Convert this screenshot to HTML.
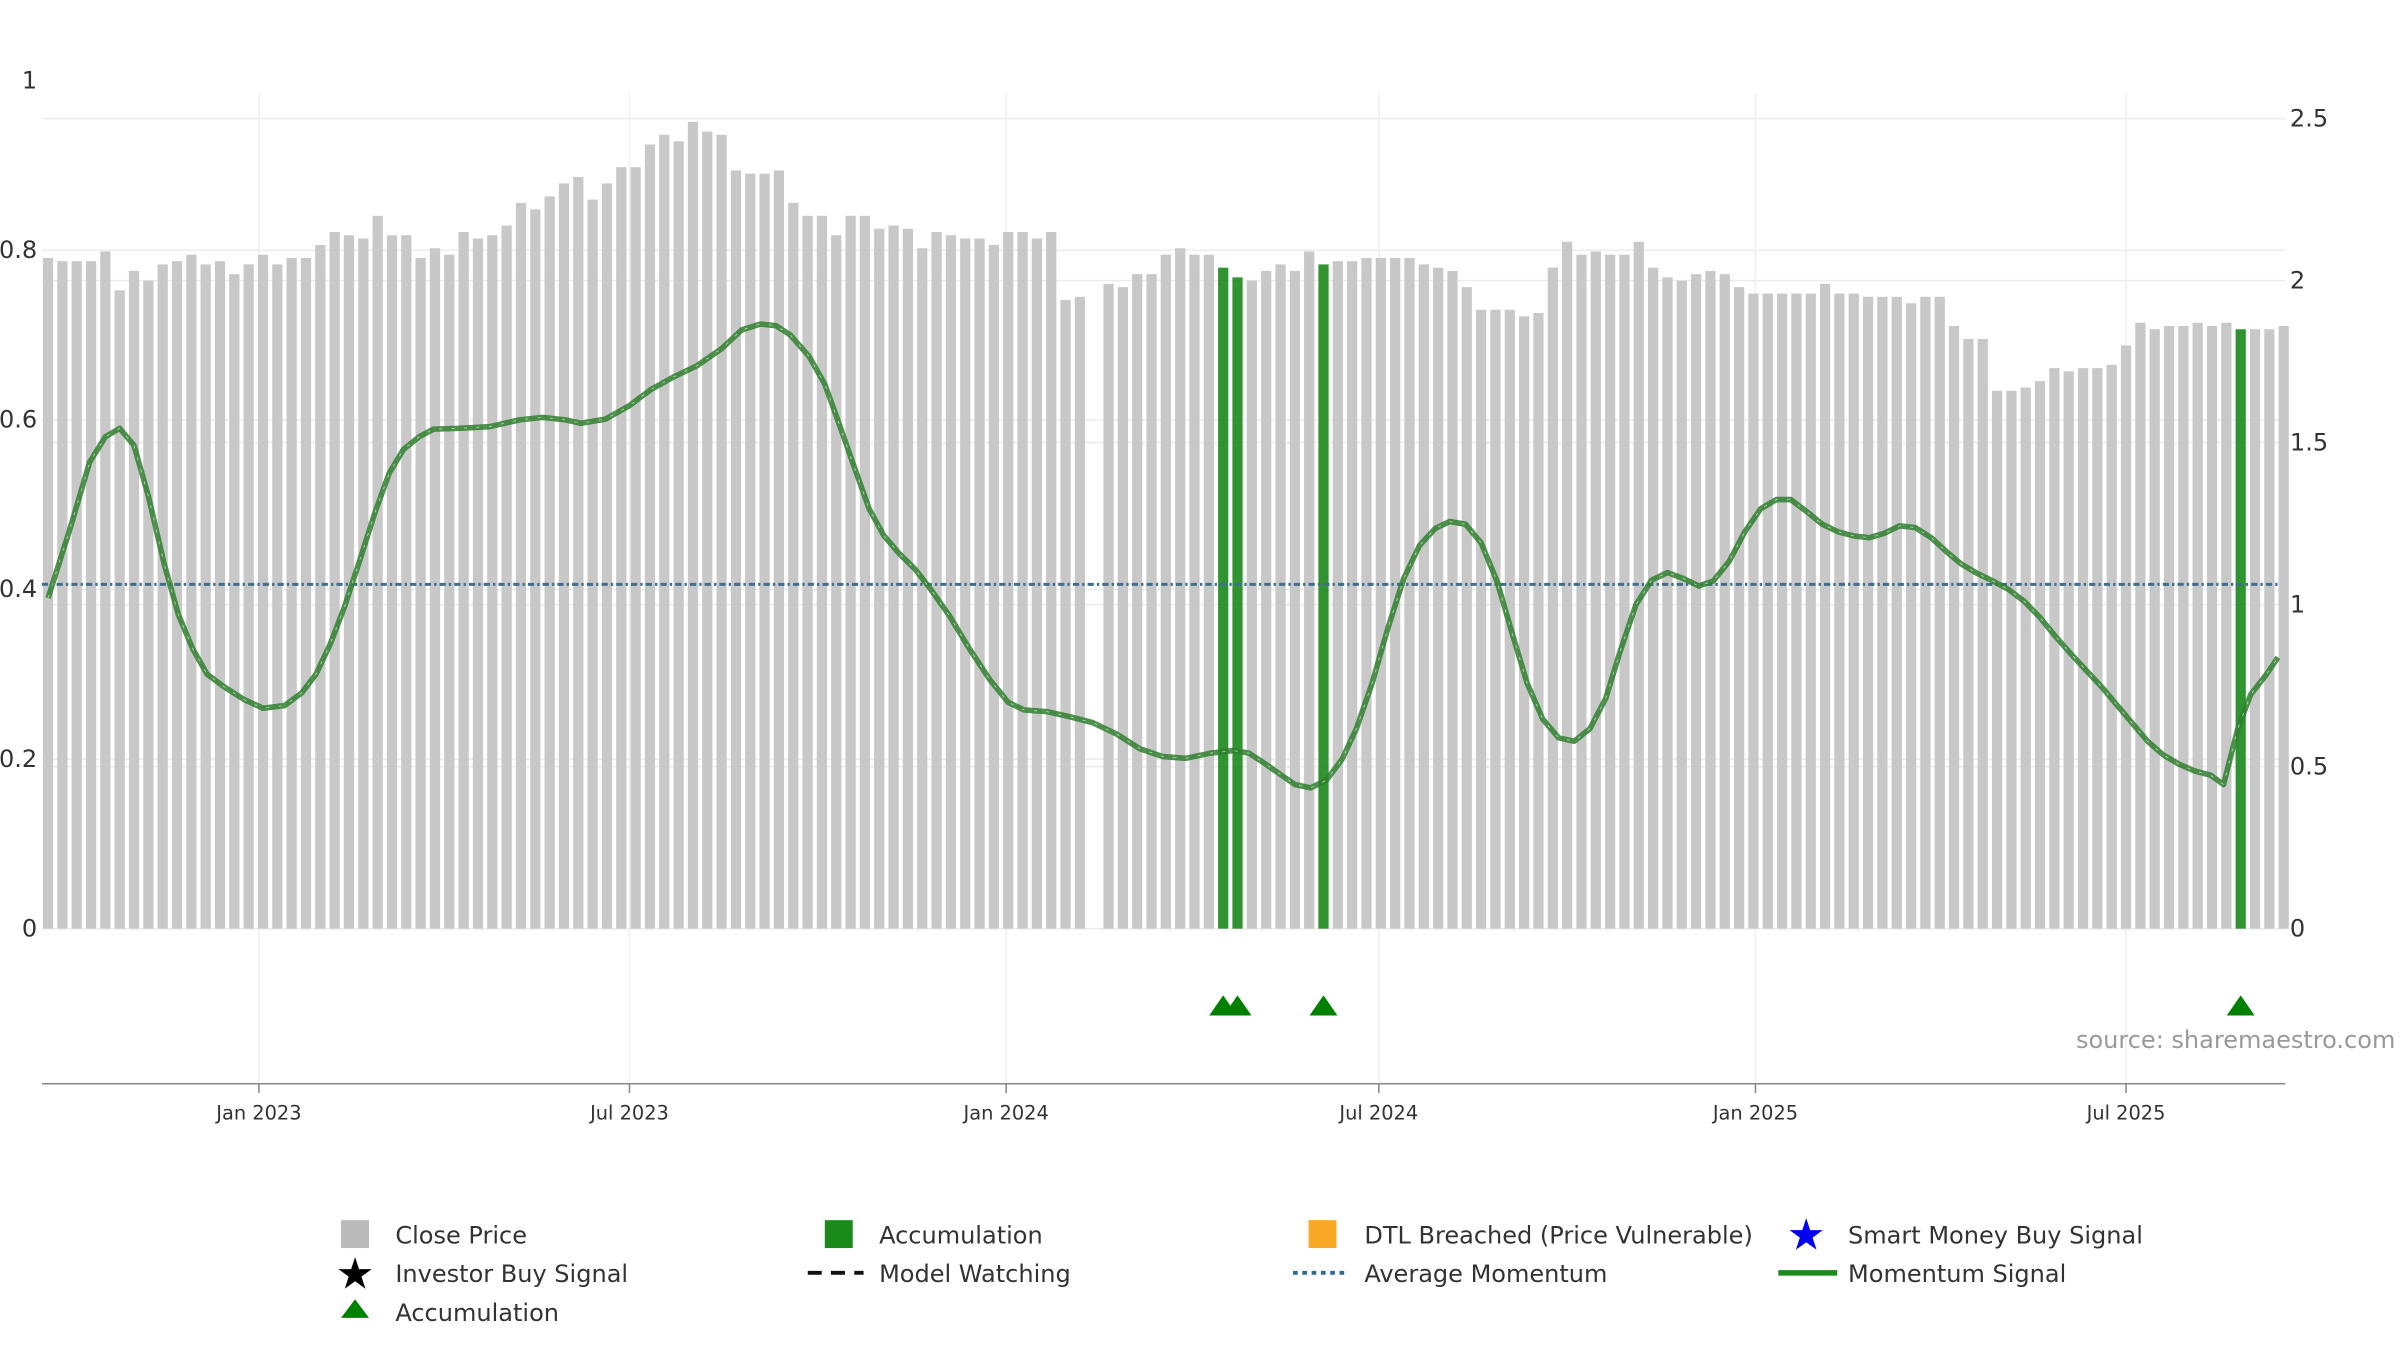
<!DOCTYPE html>
<html><head><meta charset="utf-8"><style>
html,body{margin:0;padding:0;background:#fff;}
svg{display:block;font-family:"DejaVu Sans","Liberation Sans",sans-serif;}
</style></head><body>
<svg id="chart" width="2400" height="1350" viewBox="0 0 1548 870.75" xmlns="http://www.w3.org/2000/svg">
<g id="grid"></g>
<g id="bars"></g>
<g id="lines"></g>
<g id="axes"></g>
<text x="1545" y="676" text-anchor="end" font-size="15.5" fill="#999">source: sharemaestro.com</text>
<g id="legend" font-size="15.5" fill="#333">
 <g><rect x="220" y="787" width="18" height="18" fill="#bbb"/><text x="255" y="802">Close Price</text></g>
 <g><rect x="532" y="787" width="18" height="18" fill="#1a8a1a"/><text x="567" y="802">Accumulation</text></g>
 <g><rect x="844" y="787" width="18" height="18" fill="#f9a825"/><text x="880" y="802">DTL Breached (Price Vulnerable)</text></g>
 <g><text x="1165" y="806" font-size="28" fill="#0000ee" text-anchor="middle">★</text><text x="1192" y="802">Smart Money Buy Signal</text></g>
 <g><text x="229" y="831" font-size="28" fill="#000" text-anchor="middle">★</text><text x="255" y="827">Investor Buy Signal</text></g>
 <g><line x1="521" y1="821" x2="557" y2="821" stroke="#111" stroke-width="2.5" stroke-dasharray="9,6"/><text x="567" y="827">Model Watching</text></g>
 <g><line x1="834" y1="821" x2="870" y2="821" stroke="#2e6b8e" stroke-width="2.5" stroke-dasharray="3,3"/><text x="880" y="827">Average Momentum</text></g>
 <g><line x1="1147" y1="821" x2="1185" y2="821" stroke="#1a8a1a" stroke-width="3.5"/><text x="1192" y="827">Momentum Signal</text></g>
 <g><polygon points="220,850 238,850 229,838" fill="#008000"/><text x="255" y="852">Accumulation</text></g>
</g>
</svg>
<script>
// ---- data ----
const startDate = "2022-09-20";
const priceValues = [2.07,2.06,2.06,2.06,2.09,1.97,2.03,2.00,2.05,2.06,2.08,2.05,2.06,2.02,2.05,2.08,2.05,2.07,2.07,2.11,2.15,2.14,2.13,2.20,2.14,2.14,2.07,2.10,2.08,2.15,2.13,2.14,2.17,2.24,2.22,2.26,2.30,2.32,2.25,2.30,2.35,2.35,2.42,2.45,2.43,2.49,2.46,2.45,2.34,2.33,2.33,2.34,2.24,2.20,2.20,2.14,2.20,2.20,2.16,2.17,2.16,2.10,2.15,2.14,2.13,2.13,2.11,2.15,2.15,2.13,2.15,1.94,1.95,null,1.99,1.98,2.02,2.02,2.08,2.10,2.08,2.08,2.04,2.01,2.00,2.03,2.05,2.03,2.09,2.05,2.06,2.06,2.07,2.07,2.07,2.07,2.05,2.04,2.03,1.98,1.91,1.91,1.91,1.89,1.90,2.04,2.12,2.08,2.09,2.08,2.08,2.12,2.04,2.01,2.00,2.02,2.03,2.02,1.98,1.96,1.96,1.96,1.96,1.96,1.99,1.96,1.96,1.95,1.95,1.95,1.93,1.95,1.95,1.86,1.82,1.82,1.66,1.66,1.67,1.69,1.73,1.72,1.73,1.73,1.74,1.80,1.87,1.85,1.86,1.86,1.87,1.86,1.87,1.85,1.85,1.85,1.86];
const accumulationWeeks = [82,83,89,153];
const momentumWeek = [0,1.5,2.9,4.0,5.0,6.0,7.0,8.1,9.1,10.1,11.1,12.3,13.7,15.0,16.5,17.7,18.7,19.7,20.7,21.8,22.8,23.8,24.8,25.9,26.9,28.6,30.8,32.9,34.5,36.1,37.2,38.9,40.5,42.1,43.7,45.3,47.0,48.4,49.7,50.8,51.8,53.1,54.2,55.1,56.2,57.3,58.3,59.4,60.5,61.6,62.9,64.3,65.7,67.0,68.1,69.7,71.3,72.9,74.6,76.2,77.8,79.4,81.1,82.7,83.8,84.8,85.9,87.0,88.1,89.2,90.3,91.3,92.4,93.5,94.6,95.7,96.8,97.8,98.9,100.0,101.1,102.2,103.2,104.3,105.4,106.5,107.6,108.7,109.7,110.8,111.9,113.0,114.1,115.2,116.2,117.3,118.4,119.5,120.6,121.6,122.7,123.8,124.9,126.0,127.1,128.1,129.2,130.3,131.4,132.5,133.5,134.6,135.7,136.8,137.9,139.0,140.0,141.1,142.2,143.3,144.4,145.5,146.5,147.6,148.7,149.8,150.9,151.8,152.8,153.7,154.8,155.6];
const momentumValues = [0.39,0.47,0.55,0.58,0.59,0.57,0.51,0.43,0.37,0.33,0.30,0.285,0.27,0.26,0.263,0.278,0.30,0.336,0.38,0.437,0.49,0.537,0.565,0.58,0.589,0.59,0.592,0.60,0.603,0.60,0.596,0.601,0.616,0.636,0.651,0.664,0.684,0.706,0.713,0.711,0.70,0.675,0.642,0.60,0.547,0.495,0.464,0.442,0.424,0.40,0.369,0.33,0.294,0.267,0.258,0.256,0.25,0.243,0.229,0.212,0.203,0.201,0.207,0.21,0.207,0.196,0.183,0.17,0.166,0.175,0.2,0.236,0.29,0.355,0.413,0.452,0.472,0.48,0.477,0.455,0.41,0.346,0.29,0.247,0.225,0.221,0.236,0.272,0.327,0.382,0.411,0.42,0.413,0.404,0.41,0.433,0.468,0.495,0.506,0.506,0.492,0.477,0.468,0.463,0.461,0.466,0.475,0.473,0.461,0.444,0.43,0.419,0.41,0.40,0.386,0.367,0.346,0.325,0.305,0.285,0.263,0.241,0.221,0.205,0.194,0.186,0.181,0.17,0.236,0.276,0.30,0.32];
const averageMomentum = 0.406;
const leftTicks = [0,0.2,0.4,0.6,0.8,1];
const leftTickLabels = ["0","0.2","0.4","0.6","0.8","1"];
const rightTicks = [0,0.5,1,1.5,2,2.5];
const rightTickLabels = ["0","0.5","1","1.5","2","2.5"];
const dateTicks = ["2023-01-01","2023-07-01","2024-01-01","2024-07-01","2025-01-01","2025-07-01"];
const dateTickLabels = ["Jan 2023","Jul 2023","Jan 2024","Jul 2024","Jan 2025","Jul 2025"];

// ---- scales ----
const NS="http://www.w3.org/2000/svg";
const X0=27,X1=1474,Y0=599;
const day0=Date.parse("2023-01-01");
function xDate(s){return 167+(Date.parse(s)-day0)/86400000*1.3205;}
const start=xDate(startDate);
function xWeek(w){return start+w*7*1.3205;}
function yL(v){return Y0-v*547;}
function yR(v){return Y0-v*209;}
function mk(tag,attrs,parent){const e=document.createElementNS(NS,tag);for(const k in attrs)e.setAttribute(k,attrs[k]);parent.appendChild(e);return e;}
const grid=document.getElementById('grid'),bars=document.getElementById('bars'),lines=document.getElementById('lines'),axes=document.getElementById('axes');

rightTicks.forEach(function(v,i){
  const l=mk('line',{x1:X0,x2:X1,y1:yR(v),y2:yR(v),stroke:'#ececec','stroke-width':1},grid);
  
  
  const t=mk('text',{x:1477,y:yR(v)+5,'font-size':15.5,fill:'#333'},axes);
  t.textContent=rightTickLabels[i];
  
  
});
leftTicks.forEach(function(v,i){
  if(v>0&&v<1){const l=mk('line',{x1:X0,x2:X1,y1:yL(v),y2:yL(v),stroke:'#ececec','stroke-width':1},grid);
  
  }
  const t=mk('text',{x:24,y:yL(v)+5,'font-size':15.5,fill:'#333','text-anchor':'end'},axes);
  t.textContent=leftTickLabels[i];
  
  
});
dateTicks.forEach(function(d,i){
  const x=xDate(d);
  const g=mk('line',{x1:x,x2:x,y1:60,y2:699,stroke:'#f0f0f0','stroke-width':1},grid);
  
  
  const tk=mk('line',{x1:x,x2:x,y1:699,y2:705,stroke:'#888','stroke-width':1},axes);
  
  
  const t=mk('text',{x:x,y:722,'font-size':12.5,fill:'#333','text-anchor':'middle'},axes);
  t.textContent=dateTickLabels[i];
  
  
});
const ax=mk('line',{x1:X0,x2:X1,y1:699,y2:699,stroke:'#888','stroke-width':1},axes);



priceValues.forEach(function(v,i){
  if(v===null)return;
  const acc=accumulationWeeks.indexOf(i)>=0;
  const x=xWeek(i);
  const r=mk('rect',{x:x-3.3,y:yR(v),width:6.6,height:Y0-yR(v),fill:acc?'#1a8a1a':'#c8c8c8','fill-opacity':acc?0.9:1},bars);
  
  
});

const avg=mk('line',{x1:X0,x2:1470,y1:yL(averageMomentum),y2:yL(averageMomentum),stroke:'#3f6f8f','stroke-width':2,'stroke-dasharray':'4,2,1.5,2'},lines);



const pts=momentumWeek.map(function(w,i){return xWeek(w).toFixed(1)+','+yL(momentumValues[i]).toFixed(1);}).join(' ');
const ml=mk('polyline',{points:pts,fill:'none',stroke:'#2f7f2f','stroke-width':3.6,'stroke-opacity':0.85,'stroke-linejoin':'round'},lines);


const ml2=mk('polyline',{points:pts,fill:'none',stroke:'#9fd89f','stroke-width':0.6,'stroke-dasharray':'2,6'},lines);



accumulationWeeks.forEach(function(w){
  const x=xWeek(w);
  const p=mk('polygon',{points:(x-9)+',655 '+(x+9)+',655 '+x+',642',fill:'#008000'},lines);
  
  
});
</script>
</body></html>
